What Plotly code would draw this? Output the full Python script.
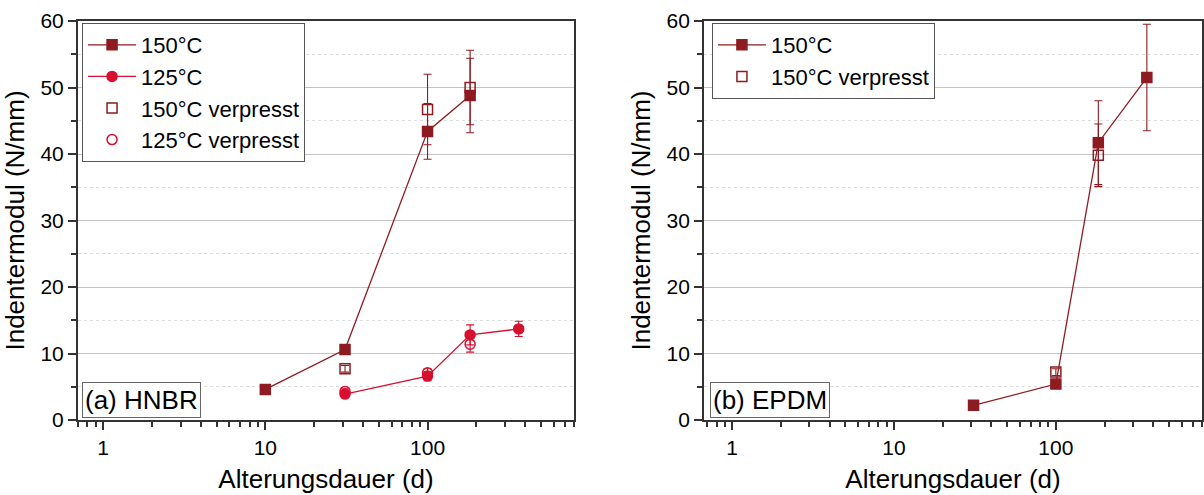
import math
import plotly.graph_objects as go

# ---------------- data ----------------
# (a) HNBR
h150_x = [10, 31, 100, 183]
h150_y = [4.6, 10.6, 43.4, 48.8]
h150_e = [0.3, 0.3, 4.2, 5.6]

h125_x = [31, 100, 183, 365]
h125_y = [3.9, 6.6, 12.8, 13.7]
h125_e = [0.3, 0.7, 1.5, 1.15]

h150v_x = [31, 100, 183]
h150v_y = [7.7, 46.7, 50.0]
h150v_e = [0.5, 5.3, 5.6]

h125v_x = [31, 100, 183]
h125v_y = [4.3, 7.1, 11.4]
h125v_e = [0.4, 0.6, 1.2]

# (b) EPDM
e150_x = [31, 100, 183, 365]
e150_y = [2.2, 5.4, 41.7, 51.5]
e150_e = [0.2, 0.3, 6.3, 8.0]

e150v_x = [100, 183]
e150v_y = [7.2, 39.8]
e150v_e = [0.5, 4.7]

x_tickvals = [1, 10, 100]
x_ticktext = ["1", "10", "100"]
x_minor = [0.7, 0.8, 0.9, 2, 3, 4, 5, 6, 7, 8, 9, 20, 30, 40, 50, 60, 70, 80, 90,
           200, 300, 400, 500, 600, 700, 800]

DARK = "#8E1B21"
RED = "#D6102F"
FONT = "Liberation Sans, Arial, sans-serif"

fig = go.Figure()


def add(x, y, e, name, color, symbol, mode, xa, ya, legend):
    fig.add_trace(go.Scatter(
        x=x, y=y, name=name, mode=mode, xaxis=xa, yaxis=ya, legend=legend,
        line=dict(color=color, width=1.3),
        marker=dict(color=color, symbol=symbol, size=10,
                    line=dict(color=color, width=1.5)),
        error_y=dict(type="data", array=e, visible=True, color=color,
                     thickness=1.1, width=4),
    ))


add(h150_x, h150_y, h150_e, "150°C", DARK, "square", "lines+markers", "x", "y", "legend")
add(h125_x, h125_y, h125_e, "125°C", RED, "circle", "lines+markers", "x", "y", "legend")
add(h150v_x, h150v_y, h150v_e, "150°C verpresst", DARK, "square-open", "markers", "x", "y", "legend")
add(h125v_x, h125v_y, h125v_e, "125°C verpresst", RED, "circle-open", "markers", "x", "y", "legend")

add(e150_x, e150_y, e150_e, "150°C", DARK, "square", "lines+markers", "x2", "y2", "legend2")
add(e150v_x, e150v_y, e150v_e, "150°C verpresst", DARK, "square-open", "markers", "x2", "y2", "legend2")


def xaxis(domain, anchor, lo):
    return dict(
        type="log", range=[math.log10(lo), math.log10(800)], domain=domain, anchor=anchor,
        tickmode="array", tickvals=x_tickvals, ticktext=x_ticktext,
        ticks="outside", ticklen=8, tickwidth=1.5, tickcolor="#333",
        showline=True, linecolor="#333", linewidth=2, mirror=True,
        showgrid=False, zeroline=False, automargin=False,
        minor=dict(tickmode="array", tickvals=x_minor, ticks="outside",
                   ticklen=5, tickwidth=1.5, tickcolor="#333", showgrid=False),
        tickfont=dict(size=21, color="black", family=FONT),
        title=dict(text="Alterungsdauer (d)", font=dict(size=26, color="black", family=FONT),
                   standoff=12),
    )


def yaxis(anchor):
    return dict(
        range=[0, 60], anchor=anchor, dtick=10, tick0=0,
        ticks="outside", ticklen=8, tickwidth=1.5, tickcolor="#333",
        showline=True, linecolor="#333", linewidth=2, mirror=True,
        showgrid=True, gridcolor="#c4c4c4", gridwidth=1, zeroline=False, automargin=False,
        minor=dict(dtick=5, ticks="outside", ticklen=5, tickwidth=1.5, tickcolor="#333",
                   showgrid=True, gridcolor="#dedede", griddash="dot", gridwidth=1),
        tickfont=dict(size=21, color="black", family=FONT),
        title=dict(text="Indentermodul (N/mm)", font=dict(size=26, color="black", family=FONT),
                   standoff=8),
    )


leg_common = dict(
    bgcolor="white", bordercolor="#555", borderwidth=1,
    font=dict(size=22, color="black", family=FONT),
    xanchor="left", yanchor="top", tracegroupgap=0, itemwidth=48,
)

fig.update_layout(
    width=1204, height=495,
    margin=dict(l=78, r=2, t=21, b=75),
    paper_bgcolor="white", plot_bgcolor="white",
    font=dict(family=FONT, color="black"),
    xaxis=xaxis([0, 0.4413], "y", 0.7),
    yaxis=yaxis("x"),
    xaxis2=xaxis([0.557, 1.0], "y2", 0.67),
    yaxis2=yaxis("x2"),
    legend=dict(x=0.0036, y=0.995, **leg_common),
    legend2=dict(x=0.564, y=0.995, **leg_common),
    showlegend=True,
    annotations=[
        dict(text="(a) HNBR", xref="x domain", yref="y domain", x=0.008, y=0.006,
             xanchor="left", yanchor="bottom", showarrow=False,
             font=dict(size=26, color="black", family=FONT),
             bordercolor="#666", borderwidth=1, borderpad=2, bgcolor="white"),
        dict(text="(b) EPDM", xref="x2 domain", yref="y2 domain", x=0.012, y=0.006,
             xanchor="left", yanchor="bottom", showarrow=False,
             font=dict(size=26, color="black", family=FONT),
             bordercolor="#666", borderwidth=1, borderpad=2, bgcolor="white"),
    ],
)

fig.write_html("out.html", config={"displayModeBar": False},
               post_script="document.body.style.margin='0';document.body.style.overflow='hidden';")
